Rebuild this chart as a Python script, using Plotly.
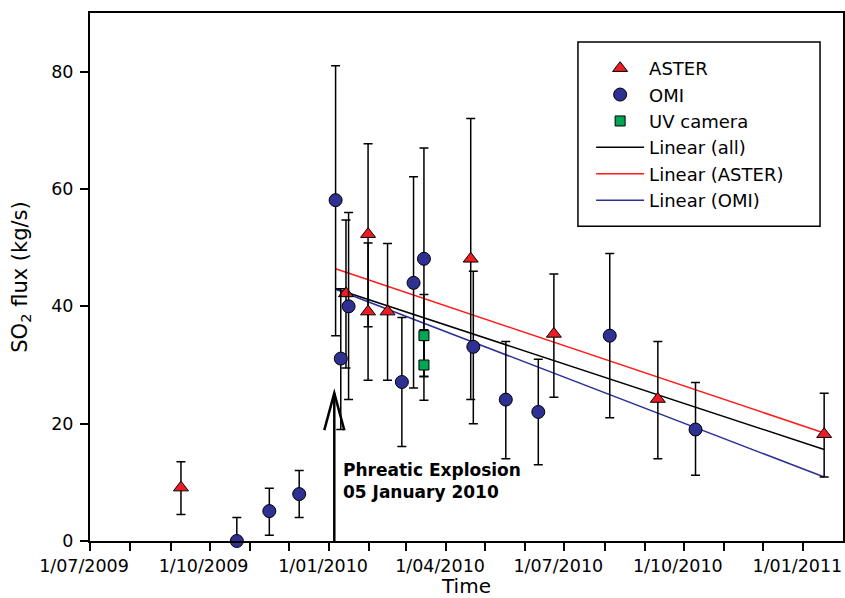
import plotly.graph_objects as go

# ---------------- data ----------------
aster_dates = ["2009-09-09", "2010-01-14", "2010-01-31", "2010-01-31", "2010-02-15",
               "2010-04-20", "2010-06-23", "2010-09-11", "2011-01-17"]
aster_vals = [9.1, 42.2, 52.3, 39.1, 39.1, 48.1, 35.3, 24.2, 18.2]
aster_err_plus = [4.4, 12.5, 15.4, 11.7, 11.6, 23.9, 10.2, 9.8, 7.0]
aster_err_minus = [4.6, 12.7, 15.8, 11.7, 11.7, 24.0, 10.8, 10.2, 7.3]

omi_dates = ["2009-10-22", "2009-11-16", "2009-12-09", "2010-01-06", "2010-01-10",
             "2010-01-16", "2010-02-26", "2010-03-07", "2010-03-15", "2010-04-22",
             "2010-05-17", "2010-06-11", "2010-08-05", "2010-10-10"]
omi_vals = [0, 5.1, 8.0, 58.1, 31.1, 40.0, 27.1, 44.0, 48.1, 33.1, 24.1, 22.0, 35.0, 19.0]
omi_err_plus = [4.0, 3.9, 4.0, 22.9, 11.9, 16.0, 11.0, 18.1, 18.9, 12.9, 9.9, 9.0, 14.0, 8.0]
omi_err_minus = [0, 4.1, 4.0, 23.1, 12.1, 15.9, 11.0, 17.9, 20.0, 13.1, 10.1, 9.0, 14.0, 7.8]

uv_dates = ["2010-03-15", "2010-03-15"]
uv_vals = [35.0, 30.0]
uv_err = [7.0, 6.0]

fit_dates = ["2010-01-06", "2011-01-17"]
fit_all = [43.0, 15.6]
fit_aster = [46.4, 18.4]
fit_omi = [42.9, 10.9]

explosion_date = "2010-01-05"
arrow_tip = 25.2
explosion_label = "<b>Phreatic Explosion</b><br><b>05 January 2010</b>"

month_ticks = ["2009-07-01", "2009-08-01", "2009-09-01", "2009-10-01", "2009-11-01",
               "2009-12-01", "2010-01-01", "2010-02-01", "2010-03-01", "2010-04-01",
               "2010-05-01", "2010-06-01", "2010-07-01", "2010-08-01", "2010-09-01",
               "2010-10-01", "2010-11-01", "2010-12-01", "2011-01-01"]
tick_labels = ["1/07/2009", "", "", "1/10/2009", "", "", "1/01/2010", "", "",
               "1/04/2010", "", "", "1/07/2010", "", "", "1/10/2010", "", "", "1/01/2011"]
y_ticks = [0, 20, 40, 60, 80]

# ---------------- style ----------------
FONT = "DejaVu Sans"
RED = "#ed1c24"
NAVY = "#2e3192"
GREEN = "#00a651"

fig = go.Figure()

# fitted lines (drawn first, underneath markers)
fig.add_trace(go.Scatter(x=fit_dates, y=fit_all, mode="lines", name="Linear (all)",
                         line=dict(color="black", width=1.5), legendrank=4))
fig.add_trace(go.Scatter(x=fit_dates, y=fit_aster, mode="lines", name="Linear (ASTER)",
                         line=dict(color="#ff1a1a", width=1.5), legendrank=5))
fig.add_trace(go.Scatter(x=fit_dates, y=fit_omi, mode="lines", name="Linear (OMI)",
                         line=dict(color="#2b2f9a", width=1.5), legendrank=6))

err_style = dict(color="black", thickness=1.5, width=4.5)

fig.add_trace(go.Scatter(
    x=aster_dates, y=aster_vals, mode="markers", name="ASTER", legendrank=1,
    marker=dict(symbol="triangle-up", size=13, color=RED, line=dict(color="black", width=1)),
    error_y=dict(type="data", symmetric=False, array=aster_err_plus,
                 arrayminus=aster_err_minus, **err_style),
    cliponaxis=False))
fig.add_trace(go.Scatter(
    x=omi_dates, y=omi_vals, mode="markers", name="OMI", legendrank=2,
    marker=dict(symbol="circle", size=13, color=NAVY, line=dict(color="black", width=1)),
    error_y=dict(type="data", symmetric=False, array=omi_err_plus,
                 arrayminus=omi_err_minus, **err_style),
    cliponaxis=False))
fig.add_trace(go.Scatter(
    x=uv_dates, y=uv_vals, mode="markers", name="UV camera", legendrank=3,
    marker=dict(symbol="square", size=10, color=GREEN, line=dict(color="black", width=1)),
    error_y=dict(type="data", array=uv_err, **err_style),
    cliponaxis=False))

# explosion arrow
fig.add_shape(type="line", xref="x", yref="y", x0=explosion_date, x1=explosion_date,
              y0=0, y1=arrow_tip, line=dict(color="black", width=2.5))
fig.add_shape(type="path", xref="x", yref="y", xsizemode="pixel", ysizemode="pixel",
              xanchor=explosion_date, yanchor=arrow_tip,
              path="M-10,-37 L0,0 L10,-37", line=dict(color="black", width=2.5))
fig.add_annotation(x=explosion_date, y=10.2, xref="x", yref="y", text=explosion_label,
                   showarrow=False, xanchor="left", yanchor="middle", align="left",
                   xshift=7, font=dict(family=FONT, size=17, color="black"))

# legend frame
fig.add_shape(type="rect", xref="paper", yref="paper", x0=0.648, x1=0.9695,
              y0=0.5962, y1=0.945, line=dict(color="black", width=1.5), fillcolor="white",
              layer="below")

axis_common = dict(showline=True, linecolor="black", linewidth=2, mirror=True,
                   ticks="outside", ticklen=8, tickwidth=1.5, tickcolor="black",
                   showgrid=False, zeroline=False, automargin=False,
                   tickfont=dict(family=FONT, size=17.5, color="black"))

fig.update_layout(
    width=845, height=598,
    margin=dict(l=90, r=2, t=13, b=57),
    paper_bgcolor="white", plot_bgcolor="white",
    font=dict(family=FONT, color="black"),
    showlegend=True,
    legend=dict(x=0.6655, y=0.93, xanchor="left", yanchor="top",
                bgcolor="rgba(0,0,0,0)", borderwidth=0,
                font=dict(family=FONT, size=18, color="black"),
                itemwidth=48, tracegroupgap=0),
    xaxis=dict(type="date", range=["2009-07-01", "2011-01-31 12:00"],
               tickmode="array", tickvals=month_ticks, ticktext=tick_labels,
               ticklabelshift=-6, ticklabelstandoff=0,
               title=dict(text="Time", font=dict(family=FONT, size=20), standoff=4),
               **axis_common),
    yaxis=dict(range=[0, 90], tickmode="array", tickvals=y_ticks,
               ticklabelstandoff=3,
               title=dict(text="SO<sub>2</sub> flux (kg/s)", font=dict(family=FONT, size=21),
                          standoff=18),
               **axis_common),
)

fig.write_html("out.html", config={"displayModeBar": False},
               post_script="document.body.style.margin='0';")
